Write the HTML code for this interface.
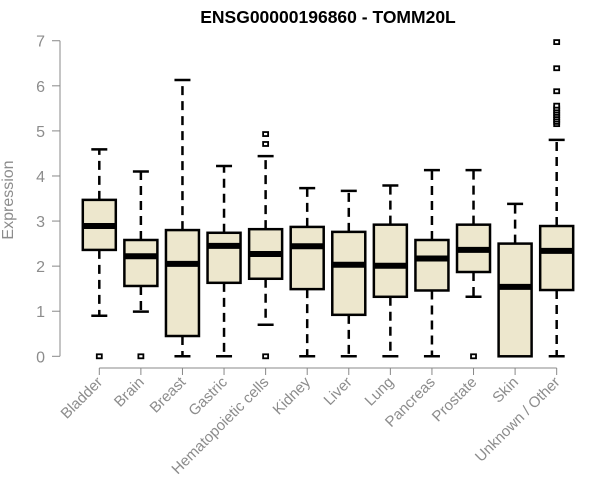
<!DOCTYPE html>
<html><head><meta charset="utf-8"><style>
body{margin:0;background:#fff;}
svg{display:block;font-family:"Liberation Sans",Arial,sans-serif;}
</style></head><body>
<svg id="chart" width="600" height="500">
<text x="328" y="23" text-anchor="middle" font-weight="bold" font-size="17.5" fill="#000">ENSG00000196860 - TOMM20L</text>
<text transform="translate(13,200) rotate(-90)" text-anchor="middle" font-size="16" fill="#8c8c8c">Expression</text>
<g id="yaxis"></g>
<g id="xaxis"></g>
<g id="boxes"></g>
</svg>
<script>
const categories=["Bladder","Brain","Breast","Gastric","Hematopoietic cells","Kidney","Liver","Lung","Pancreas","Prostate","Skin","Unknown / Other"];
const q1=[2.36,1.56,0.45,1.63,1.72,1.49,0.92,1.32,1.46,1.87,0.0,1.47];
const medians=[2.89,2.22,2.05,2.45,2.27,2.44,2.03,2.01,2.17,2.36,1.54,2.34];
const q3=[3.47,2.58,2.80,2.74,2.82,2.87,2.76,2.92,2.58,2.92,2.50,2.89];
const whiskerLow=[0.90,0.99,0.0,0.0,0.70,0.0,0.0,0.0,0.0,1.32,0.0,0.0];
const whiskerHigh=[4.59,4.10,6.13,4.22,4.44,3.73,3.67,3.79,4.13,4.13,3.38,4.80];
const outliers=[[0],[0],[],[],[0,4.71,4.93],[],[],[],[],[0],[],[5.15,5.2,5.25,5.3,5.35,5.4,5.45,5.5,5.56,5.88,6.39,6.97]];
const yTicks=[0,1,2,3,4,5,6,7];
</script>
<script>
const NS="http://www.w3.org/2000/svg";
const y=v=>356.3-v*45.08;
const x=i=>99.3+i*41.58;
function mk(tag,attrs,parent){const e=document.createElementNS(NS,tag);for(const k in attrs)e.setAttribute(k,attrs[k]);parent.appendChild(e);return e;}
const ya=document.getElementById('yaxis'),xa=document.getElementById('xaxis'),bx=document.getElementById('boxes');
mk('line',{x1:60,x2:60,y1:y(0),y2:y(7),stroke:'#888','stroke-width':1},ya);
yTicks.forEach(t=>{
  mk('line',{x1:52,x2:60,y1:y(t),y2:y(t),stroke:'#888'},ya);
  const tx=mk('text',{x:45,y:y(t)+6,'text-anchor':'end','font-size':16,fill:'#8c8c8c'},ya);
  tx.textContent=t;
  
  
});
mk('line',{x1:x(0),x2:x(11),y1:368,y2:368,stroke:'#888'},xa);
categories.forEach((c,i)=>{
  mk('line',{x1:x(i),x2:x(i),y1:368,y2:375,stroke:'#888'},xa);
  const tx=mk('text',{transform:`translate(${x(i)+4},${383}) rotate(-45)`,'text-anchor':'end','font-size':15,fill:'#8c8c8c'},xa);
  tx.textContent=c;
  
  
  const g=mk('g',{},bx);
  
  
  const cx=x(i),hw=16.5;
  mk('line',{x1:cx,x2:cx,y1:y(q3[i]),y2:y(whiskerHigh[i]),stroke:'#000','stroke-width':2.5,'stroke-dasharray':'9,6'},g);
  mk('line',{x1:cx,x2:cx,y1:y(q1[i]),y2:y(whiskerLow[i]),stroke:'#000','stroke-width':2.5,'stroke-dasharray':'9,6'},g);
  mk('line',{x1:cx-8,x2:cx+8,y1:y(whiskerHigh[i]),y2:y(whiskerHigh[i]),stroke:'#000','stroke-width':2.5},g);
  mk('line',{x1:cx-8,x2:cx+8,y1:y(whiskerLow[i]),y2:y(whiskerLow[i]),stroke:'#000','stroke-width':2.5},g);
  mk('rect',{x:cx-hw,y:y(q3[i]),width:hw*2,height:y(q1[i])-y(q3[i]),fill:'#ede7cd',stroke:'#000','stroke-width':2.5},g);
  mk('line',{x1:cx-hw,x2:cx+hw,y1:y(medians[i]),y2:y(medians[i]),stroke:'#000','stroke-width':6},g);
  outliers[i].forEach(o=>{
    const p=mk('rect',{x:cx-2.5,y:y(o)-2,width:5,height:4,fill:'#fff',stroke:'#000','stroke-width':1.8},g);
    
    
  });
});
</script>
</body></html>
